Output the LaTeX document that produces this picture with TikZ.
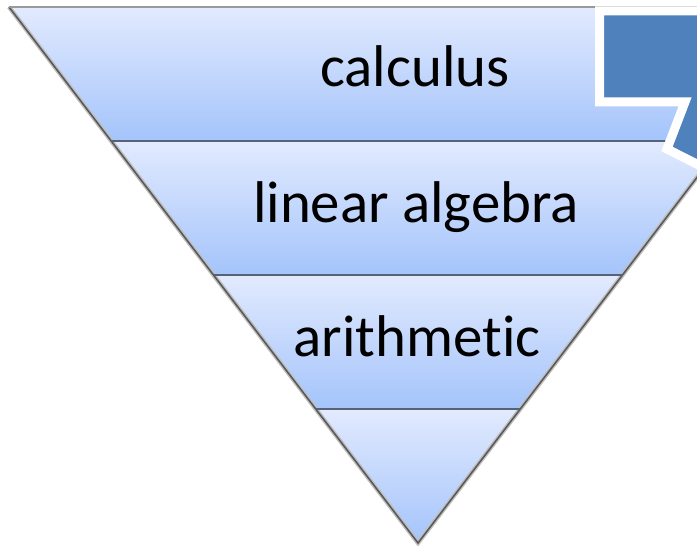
\documentclass[tikz,border=0pt]{standalone}
\usepackage{fontspec}
\setmainfont[Ligatures={NoCommon}]{Carlito}
\usepackage{xcolor}
\usetikzlibrary{calc, shadows}

\definecolor{bandtop}{RGB}{226,234,254}
\definecolor{bandbot}{RGB}{164,196,251}
\definecolor{bandline}{RGB}{88,98,118}
\definecolor{callblue}{RGB}{79,129,189}

\begin{document}
\begin{tikzpicture}[x=0.02cm, y=0.02cm,
    band/.style={top color=bandtop, bottom color=bandbot},
    label/.style={font=\fontsize{33.5}{40}\selectfont, text=black, anchor=base}]
        \useasboundingbox (0,0) rectangle (697,546);
        \clip (0,0) rectangle (697,546);

        % Corners of the pyramid
        \coordinate (tl) at (9,539);
        \coordinate (tr) at (827,539);
        \coordinate (apex) at (418,3);
        \foreach \i/\f in {1/0.25, 2/0.5, 3/0.75} {
            \coordinate (l\i) at ($(tl)!\f!(apex)$);
            \coordinate (r\i) at ($(tr)!\f!(apex)$);
        }

        % --- Bands ---
        \path[band] (tl) -- (tr) -- (r1) -- (l1) -- cycle;
        \path[band] (l1) -- (r1) -- (r2) -- (l2) -- cycle;
        \path[band] (l2) -- (r2) -- (r3) -- (l3) -- cycle;
        \path[band] (l3) -- (r3) -- (apex) -- cycle;

        % Outline
        \draw[black!25, line width=2.5pt] (tl) -- (apex) -- (tr);
        \draw[black!65, line width=0.9pt] (tl) -- (apex) -- (tr);
        \draw[black!40, line width=0.9pt] (tl) -- (tr);
        \foreach \i in {1,2,3}
            \draw[bandline, line width=1.1pt] (l\i) -- (r\i);

        % Labels
        \node[label] (calc) at (415,459) {calculus};
        \node[label] (linalg) at (416,323) {linear algebra};
        \node[label] (arith) at (417,189) {arithmetic};

        % Callout
        \filldraw[fill=callblue, draw=white, line width=0.18cm, line join=miter,
            drop shadow={opacity=0.35, shadow xshift=0.05cm, shadow yshift=-0.07cm}]
            (599.5,535) -- (760,535) -- (760,350) -- (667,397)
            -- (685,444) -- (599.5,444) -- cycle;
    \end{tikzpicture}
\end{document}
